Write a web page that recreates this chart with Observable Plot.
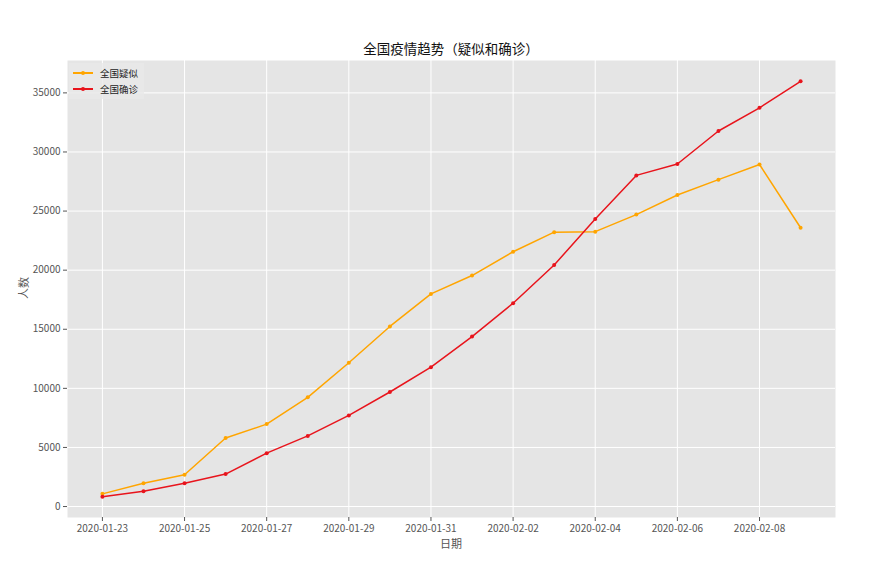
<!DOCTYPE html>
<html>
<head>
<meta charset="utf-8">
<script src="https://cdn.jsdelivr.net/npm/d3@7"></script>
<script src="https://cdn.jsdelivr.net/npm/@observablehq/plot@0.6"></script>
<style>
  html, body { margin: 0; padding: 0; background: #fff; }
  #wrap { position: relative; width: 873px; height: 578px; font-family: "Noto Sans CJK SC", "Noto Sans", sans-serif; }
  #title { position: absolute; left: 67px; width: 768px; top: 40px; text-align: center; font-size: 13.5px; color: #111; line-height: 16px; }
  #ylab { position: absolute; left: 23px; top: 288px; transform: translate(-50%, -50%) rotate(-90deg); font-size: 11px; color: #555; white-space: nowrap; }
  #xlab { position: absolute; left: 451px; top: 543px; transform: translate(-50%, -50%); font-size: 11px; color: #555; }
  #legend { position: absolute; left: 69px; top: 63px; padding: 2px 6px 2px 4px; background: rgba(232,232,232,0.8); font-size: 9.5px; color: #222; }
  .li { display: flex; align-items: center; height: 16px; }
  .sw { position: relative; width: 20px; height: 2px; margin-right: 7px; }
  .sw i { position: absolute; left: 8px; top: -1.5px; width: 4px; height: 4px; border-radius: 50%; }
  #chart { position: absolute; left: 0; top: 0; }
</style>
</head>
<body>
<div id="wrap">
  <div id="chart"></div>
  <div id="title">全国疫情趋势（疑似和确诊）</div>
  <div id="ylab">人数</div>
  <div id="xlab">日期</div>
  <div id="legend"></div>
</div>
<script>
const dates = ["2020-01-23","2020-01-24","2020-01-25","2020-01-26","2020-01-27","2020-01-28","2020-01-29","2020-01-30","2020-01-31","2020-02-01","2020-02-02","2020-02-03","2020-02-04","2020-02-05","2020-02-06","2020-02-07","2020-02-08","2020-02-09"];
const suspected = [1072,1965,2684,5794,6973,9239,12167,15238,17988,19544,21558,23214,23260,24702,26359,27657,28942,23589];
const confirmed = [830,1287,1975,2744,4515,5974,7711,9692,11791,14380,17205,20438,24324,28018,28985,31774,33738,35982];
const seriesNames = ["全国疑似","全国确诊"];
const seriesColors = ["orange","#e8141c"];
const xTickLabels = ["2020-01-23","2020-01-25","2020-01-27","2020-01-29","2020-01-31","2020-02-02","2020-02-04","2020-02-06","2020-02-08"];
const yTicks = [0,5000,10000,15000,20000,25000,30000,35000];

const parse = d3.utcParse("%Y-%m-%d");
const rows = [];
[suspected, confirmed].forEach((vals, si) => {
  vals.forEach((v, i) => rows.push({date: parse(dates[i]), value: v, series: seriesNames[si]}));
});
const xTicks = xTickLabels.map(parse);

// matplotlib-style 5% margins
const x0 = parse(dates[0]).getTime(), x1 = parse(dates[dates.length-1]).getTime();
const xpad = (x1 - x0) * 0.05;
const allV = suspected.concat(confirmed);
const vmin = d3.min(allV), vmax = d3.max(allV);
const ypad = (vmax - vmin) * 0.05;

const chart = Plot.plot({
  width: 873,
  height: 578,
  marginLeft: 67,
  marginRight: 38,
  marginTop: 60,
  marginBottom: 61,
  style: {background: "transparent", fontFamily: "'Noto Sans CJK SC', sans-serif", fontSize: "10px", color: "#555"},
  x: {type: "utc", domain: [new Date(x0 - xpad), new Date(x1 + xpad)]},
  y: {domain: [vmin - ypad, vmax + ypad]},
  color: {domain: seriesNames, range: seriesColors},
  marks: [
    Plot.frame({fill: "#e5e5e5", stroke: null}),
    Plot.gridX(xTicks, {stroke: "white", strokeOpacity: 1, strokeWidth: 1}),
    Plot.gridY(yTicks, {stroke: "white", strokeOpacity: 1, strokeWidth: 1}),
    Plot.axisX(xTicks, {tickFormat: d3.utcFormat("%Y-%m-%d"), label: null, tickSize: 4, tickPadding: 3, stroke: "#555", fill: "#555"}),
    Plot.axisY(yTicks, {tickFormat: d => String(d), label: null, tickSize: 4, tickPadding: 3, stroke: "#555", fill: "#555"}),
    Plot.line(rows, {x: "date", y: "value", z: "series", stroke: "series", strokeWidth: 1.5}),
    Plot.dot(rows, {x: "date", y: "value", fill: "series", r: 2, stroke: null})
  ]
});
document.getElementById("chart").appendChild(chart);

const legend = document.getElementById("legend");
seriesNames.forEach((name, i) => {
  const li = document.createElement("div");
  li.className = "li";
  li.innerHTML = `<span class="sw" style="background:${seriesColors[i]}"><i style="background:${seriesColors[i]}"></i></span><span>${name}</span>`;
  legend.appendChild(li);
});
</script>
</body>
</html>
